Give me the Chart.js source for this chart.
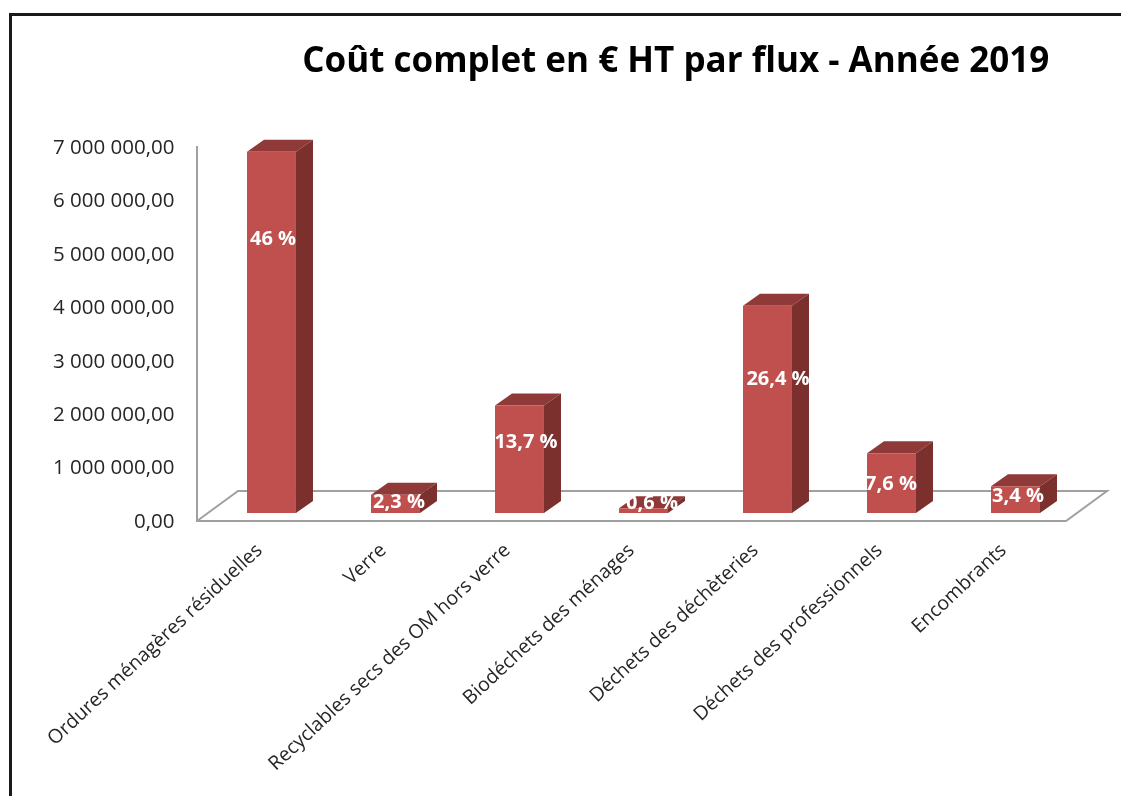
<!DOCTYPE html>
<html>
<head>
<meta charset="utf-8">
<title>Coût complet par flux</title>
<script src="https://cdn.jsdelivr.net/npm/chart.js@4/dist/chart.umd.min.js"></script>
<style>
  html, body { margin: 0; padding: 0; background: #fff; overflow: hidden; }
  #wrap { position: relative; width: 1121px; height: 796px; overflow: hidden; }
  #frame { position: absolute; left: 9px; top: 13px; width: 2000px; height: 2000px; border: 3px solid #1a1a1a; }
  canvas { position: absolute; left: 0; top: 0; }
</style>
</head>
<body>
<div id="wrap">
  <canvas id="coutChart" width="1121" height="796"></canvas>
  <div id="frame"></div>
</div>
<script>
const categories = [
  "Ordures ménagères résiduelles",
  "Verre",
  "Recyclables secs des OM hors verre",
  "Biodéchets des ménages",
  "Déchets des déchèteries",
  "Déchets des professionnels",
  "Encombrants"
];
const coutHT = [6760000, 340000, 2010000, 90000, 3880000, 1120000, 500000];
const percentLabels = ["46 %", "2,3 %", "13,7 %", "0,6 %", "26,4 %", "7,6 %", "3,4 %"];
const yTickLabels = [
  "0,00", "1 000 000,00", "2 000 000,00", "3 000 000,00",
  "4 000 000,00", "5 000 000,00", "6 000 000,00", "7 000 000,00"
];

const FONT = '"Open Sans", sans-serif';
const BAR_DEPTH = { x: 17, y: 12 };
const FLOOR_DEPTH = { x: 41, y: 30 };
// hand placed in the original, relative to the top centre of each bar
const LABEL_SHIFT = [[1.5, 87], [3.5, 7], [6.5, 37], [8.5, -5], [10.5, 74], [-0.5, 31], [2.5, 10]];

function poly(ctx, pts, color) {
  ctx.fillStyle = color;
  ctx.beginPath();
  pts.forEach((p, i) => (i ? ctx.lineTo(p[0], p[1]) : ctx.moveTo(p[0], p[1])));
  ctx.closePath();
  ctx.fill();
}

const box3d = {
  id: "box3d",
  afterLayout(chart) {
    // the title sits right of the canvas centre
    chart.titleBlock.left += 274;
  },
  beforeDatasetsDraw(chart) {
    const { ctx, scales } = chart;
    const x = scales.x, y = scales.y;
    const frontY = y.bottom + 8;
    const x0 = x.left - 12.5, x1 = x.right - 11.5;

    ctx.save();
    ctx.strokeStyle = "#a0a0a0";
    ctx.lineWidth = 2;
    ctx.beginPath();
    ctx.moveTo(x0, y.top + 7);
    ctx.lineTo(x0, frontY);
    ctx.lineTo(x1, frontY);
    ctx.lineTo(x1 + FLOOR_DEPTH.x, frontY - FLOOR_DEPTH.y);
    ctx.lineTo(x0 + FLOOR_DEPTH.x, frontY - FLOOR_DEPTH.y);
    ctx.lineTo(x0, frontY);
    ctx.stroke();

    chart.getDatasetMeta(0).data.forEach(bar => {
      const l = bar.x - bar.width / 2, r = bar.x + bar.width / 2;
      const dx = BAR_DEPTH.x, dy = BAR_DEPTH.y;
      poly(ctx, [[l, bar.y], [r, bar.y], [r + dx, bar.y - dy], [l + dx, bar.y - dy]], "#8f3a38");
      poly(ctx, [[r, bar.y], [r + dx, bar.y - dy], [r + dx, bar.base - dy], [r, bar.base]], "#7b302e");
    });
    ctx.restore();
  },
  afterDatasetsDraw(chart) {
    const { ctx } = chart;
    ctx.save();
    ctx.fillStyle = "#fff";
    ctx.font = "bold 20px " + FONT;
    ctx.textAlign = "center";
    ctx.textBaseline = "middle";
    chart.getDatasetMeta(0).data.forEach((bar, i) => {
      ctx.fillText(percentLabels[i], bar.x + LABEL_SHIFT[i][0], bar.y + LABEL_SHIFT[i][1]);
    });
    ctx.restore();
  }
};

const ctx = document.getElementById("coutChart").getContext("2d");
new Chart(ctx, {
  type: "bar",
  data: {
    labels: categories,
    datasets: [{
      data: coutHT,
      backgroundColor: "#c0504d",
      borderWidth: 0,
      categoryPercentage: 1,
      barPercentage: 0.395
    }]
  },
  options: {
    responsive: false,
    animation: false,
    layout: { padding: { right: 43.5 } },
    plugins: {
      legend: { display: false },
      tooltip: { enabled: false },
      title: {
        display: true,
        text: "Coût complet en € HT par flux - Année 2019",
        color: "#000",
        font: { family: FONT, size: 35, weight: "bold", lineHeight: 1.2 },
        padding: { top: 41, bottom: 56 }
      }
    },
    scales: {
      x: {
        grid: { display: false, drawTicks: false },
        border: { display: false },
        afterFit(scale) { scale.height = 283; },
        ticks: {
          autoSkip: false,
          minRotation: 43,
          maxRotation: 43,
          padding: 26,
          labelOffset: -12,
          color: "#262626",
          font: { family: FONT, size: 19.5 }
        }
      },
      y: {
        min: 0,
        max: 7000000,
        grid: { display: false, drawTicks: false },
        border: { display: false },
        afterFit(scale) { scale.width = 209.5; },
        ticks: {
          stepSize: 1000000,
          padding: 35,
          labelOffset: 9,
          color: "#262626",
          font: { family: FONT, size: 20.5 },
          callback: (value, index) => yTickLabels[index]
        }
      }
    }
  },
  plugins: [box3d]
});
</script>
</body>
</html>
